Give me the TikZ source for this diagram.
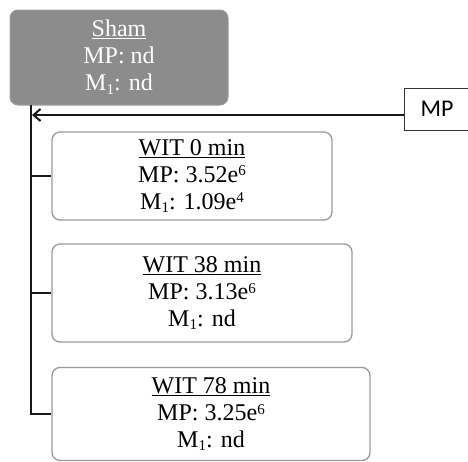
\documentclass[tikz,border=0pt]{standalone}
\usepackage{fontspec}
\setmainfont{Liberation Serif}
\newfontfamily\mpsans{Carlito}
\usetikzlibrary{arrows.meta}
\definecolor{shamgray}{HTML}{8C8C8C}
\definecolor{boxgray}{HTML}{9A9A9A}
\newcommand{\sps}[1]{\raisebox{0.55ex}{\fontsize{15}{15}\selectfont #1}}
\newcommand{\sbs}[1]{\raisebox{-0.35ex}{\fontsize{15}{15}\selectfont #1}}
\tikzset{
  txt/.style={font=\fontsize{24}{27}\selectfont, align=center, inner sep=0pt},
  shambox/.style={txt, draw=shamgray!85, fill=shamgray, text=white, rounded corners=8pt, line width=1pt},
  witbox/.style={txt, draw=boxgray, fill=white, rounded corners=8pt, line width=1.3pt},
  tagbox/.style={draw=black!80, line width=1pt, font=\mpsans\fontsize{24}{26}\selectfont, inner sep=0pt},
  wire/.style={line width=2pt, black!90}
}
\begin{document}
\begin{tikzpicture}[x=1pt,y=-1pt]
\useasboundingbox (0,0) rectangle (468,461);
\node[shambox, minimum width=218pt, minimum height=95pt] (sham) at (119,57.5)
  {\underline{Sham}\\MP: nd\\M\sbs{1}: nd};
\node[tagbox, minimum width=72pt, minimum height=42pt] (mp) at (440,109) {\hspace*{-6pt}MP};
\node[witbox, minimum width=280pt, minimum height=88pt] (w0) at (192,176)
  {\underline{WIT 0 min}\\MP: 3.52e\sps{6}\\M\sbs{1}: 1.09e\sps{4}};
\node[witbox, minimum width=300pt, minimum height=98pt] (w38) at (202,293)
  {\underline{WIT 38 min}\\MP: 3.13e\sps{6}\\M\sbs{1}: nd};
\node[witbox, minimum width=318pt, minimum height=93pt] (w78) at (211,414)
  {\underline{WIT 78 min}\\MP: 3.25e\sps{6}\\M\sbs{1}: nd};
\coordinate (top) at (31,105);
\coordinate (bot) at (31,414);
\coordinate (tip) at (32,115);
\draw[wire] (top) -- (bot) -- (w78.west);
\draw[wire] (w0.west -| top) -- (w0.west);
\draw[wire] (w38.west -| top) -- (w38.west);
\draw[wire, -{Straight Barb[length=7pt,width=12pt]}] (mp.west |- tip) -- (tip);
\end{tikzpicture}
\end{document}
